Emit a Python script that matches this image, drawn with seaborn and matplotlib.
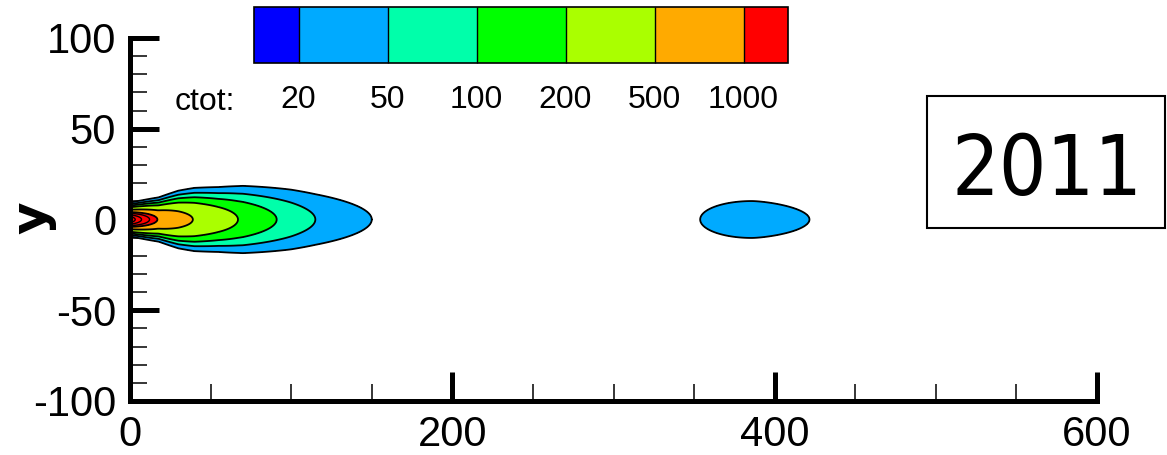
import numpy as np
import matplotlib
matplotlib.use("Agg")
import matplotlib.pyplot as plt
import matplotlib.colors as mcolors
from matplotlib.cm import ScalarMappable
from matplotlib.patches import Rectangle
from matplotlib.ticker import MultipleLocator
import seaborn as sns

# contour levels of total concentration and their band colours
levels = [20, 50, 100, 200, 500, 1000]
level_labels = ["20", "50", "100", "200", "500", "1000"]
band_colors = ["#00AAFF", "#00FFAA", "#00FF00", "#AAFF00", "#FFAA00", "#FF0000"]
under_color = "#0000FF"

# plume centreline: downstream distance at which the concentration falls to each value
centre_x = [0, 17, 39, 67, 91, 115, 150, 600]
centre_c = [2500, 1000, 500, 200, 100, 50, 20, 0.01]

# lateral spread (sigma) of the plume along x
spread_x = [0, 8, 18, 30, 40, 55, 70, 100, 150, 600]
spread_sigma = [3.0, 3.6, 4.4, 6.0, 6.9, 7.7, 8.8, 10.0, 11.0, 14.0]

# detached patch further downstream
patch_x = [355, 386, 421]      # left edge, peak, right edge of its 20 contour
patch_y = [0.0, 10.0]          # centre, half width
patch_peak = 30.0
patch_sharpness = [2.0, 1.5]   # profile exponent on the upstream / downstream side

year_label = "2011"
x_ticks = [0, 200, 400, 600]
y_ticks = [-100, -50, 0, 50, 100]

sns.set_theme(style="white")
plt.rcParams["font.family"] = ["Liberation Sans", "DejaVu Sans"]
plt.rcParams["axes.unicode_minus"] = False
for key in ["text.color", "axes.labelcolor", "xtick.color", "ytick.color"]:
    plt.rcParams[key] = "black"

W, H = 1167, 455
fig = plt.figure(figsize=(W / 100, H / 100), dpi=100)
ax = fig.add_axes([130 / W, 54 / H, 967 / W, 363 / H])

# concentration field on a regular grid
x = np.linspace(0, 600, 1201)
y = np.linspace(-100, 100, 801)
X, Y = np.meshgrid(x, y)
c0 = np.exp(np.interp(X, centre_x, np.log(centre_c)))
sig = np.interp(X, spread_x, spread_sigma)
plume = c0 * np.exp(-0.5 * (Y / sig) ** 2)

r2 = 2 * np.log(patch_peak / levels[0])
upstream = X < patch_x[1]
p = np.where(upstream, patch_sharpness[0], patch_sharpness[1])
half_len = np.where(upstream, patch_x[1] - patch_x[0], patch_x[2] - patch_x[1])
sy = patch_y[1] / np.sqrt(r2)
patch = patch_peak * np.exp(-0.5 * r2 * (np.abs(X - patch_x[1]) / half_len) ** p
                            - 0.5 * ((Y - patch_y[0]) / sy) ** 2)
C = plume + patch

ax.contourf(X, Y, C, levels=levels + [C.max() * 1.01], colors=band_colors)
ax.contour(X, Y, C, levels=levels, colors="black", linewidths=1.3)
ax.contour(X, Y, C, levels=[1300, 1700, 2100], colors="black", linewidths=1.0)

ax.set_xlim(0, 600)
ax.set_ylim(-100, 100)
sns.despine(ax=ax)
for s in ["left", "bottom"]:
    ax.spines[s].set_linewidth(3.6)
    ax.spines[s].set_color("black")
ax.set_xticks(x_ticks)
ax.set_yticks(y_ticks)
ax.xaxis.set_minor_locator(MultipleLocator(50))
ax.yaxis.set_minor_locator(MultipleLocator(10))
ax.tick_params(which="major", direction="in", length=21, width=3.6, color="black",
               labelsize=30, pad=10, labelcolor="black",
               bottom=True, left=True)
ax.tick_params(which="minor", direction="in", length=12.5, width=1.1, color="black",
               bottom=True, left=True)
ax.set_facecolor("white")

fig.text(32 / W, 1 - 218 / H, "y", rotation=90, fontweight="bold", fontsize=36,
         family=["DejaVu Sans"], ha="center", va="center")

# colour legend strip (end boxes are half the width of the inner ones)
cax = fig.add_axes([254 / W, 1 - 63 / H, 534 / W, 56 / H])
cmap = mcolors.ListedColormap(band_colors[:-1])
cmap.set_under(under_color)
cmap.set_over(band_colors[-1])
norm = mcolors.BoundaryNorm(levels, cmap.N)
cb = fig.colorbar(ScalarMappable(norm=norm, cmap=cmap), cax=cax, orientation="horizontal",
                  extend="both", extendrect=True, extendfrac=0.1, drawedges=True,
                  spacing="uniform")
cb.set_ticks(levels)
cb.set_ticklabels(level_labels)
cax.tick_params(length=0, labelsize=23, pad=16, labelcolor="black")
cb.outline.set_linewidth(1.2)
cb.outline.set_edgecolor("black")
cb.dividers.set_linewidth(1.0)
cb.dividers.set_color("black")
fig.text(205 / W, 1 - 110 / H, "ctot:", ha="center", va="baseline", fontsize=23)

# year box
fig.add_artist(Rectangle((927 / W, 1 - 228 / H), (1165 - 927) / W, 132 / H,
                         transform=fig.transFigure, fill=False, lw=1.5, ec="black"))
fig.text(1047 / W, 1 - 195 / H, year_label, ha="center", va="baseline", fontsize=60,
         family=["DejaVu Sans"], fontstretch="condensed")

fig.savefig("out.png", dpi=100, facecolor="white")
